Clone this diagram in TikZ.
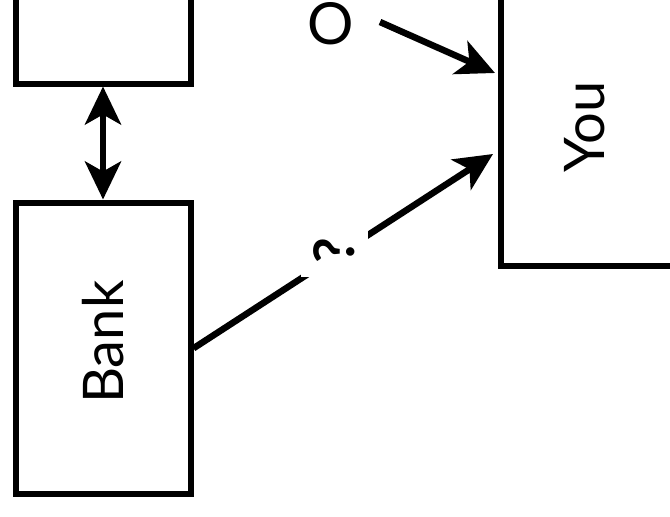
\documentclass[tikz,border=0pt]{standalone}
\usepackage{fontspec}
\setmainfont{Lato}
\usetikzlibrary{arrows.meta, positioning}

\begin{document}
\begin{tikzpicture}[
  x=1pt, y=1pt,
  box/.style={draw, line width=6pt, minimum width=175pt},
  arrow/.style={-{Stealth[length=38pt, width=36pt, inset=10pt]}, line width=6.5pt},
  label/.style={font=\fontsize{56}{60}\selectfont, rotate=90}
]
\clip (0,0) rectangle (670,-517);
\node[box, minimum height=180pt, anchor=south west] (other) at (12.5,-86.5) {};
\node[box, minimum height=291.5pt, anchor=north west] (bank) at (12.5,-199.5) {};
\node[label] at ([yshift=6pt]bank.center) {Bank};
\node[box, minimum height=290pt, anchor=south west] (you) at (497.5,-269) {};
\node[label, font=\fontsize{56}{60}\selectfont] at (585,-127) {You};

\coordinate (ostart) at (380,-22);
\coordinate (otip) at (495,-73);
\coordinate (qtip) at (493,-154);

\draw[arrow, {Stealth[length=38pt, width=36pt, inset=10pt]}-{Stealth[length=38pt, width=36pt, inset=10pt]}] (other.south) -- (bank.north);
\draw[arrow] (ostart) -- (otip);
\draw[arrow] (bank.east) -- node[pos=0.47, yshift=6pt, fill=white, inner sep=13pt, label, font=\bfseries\fontsize{56}{60}\selectfont] {?} (qtip);
\node[font=\fontsize{58}{62}\selectfont] (o) at (331,-24) {O};
\end{tikzpicture}
\end{document}
